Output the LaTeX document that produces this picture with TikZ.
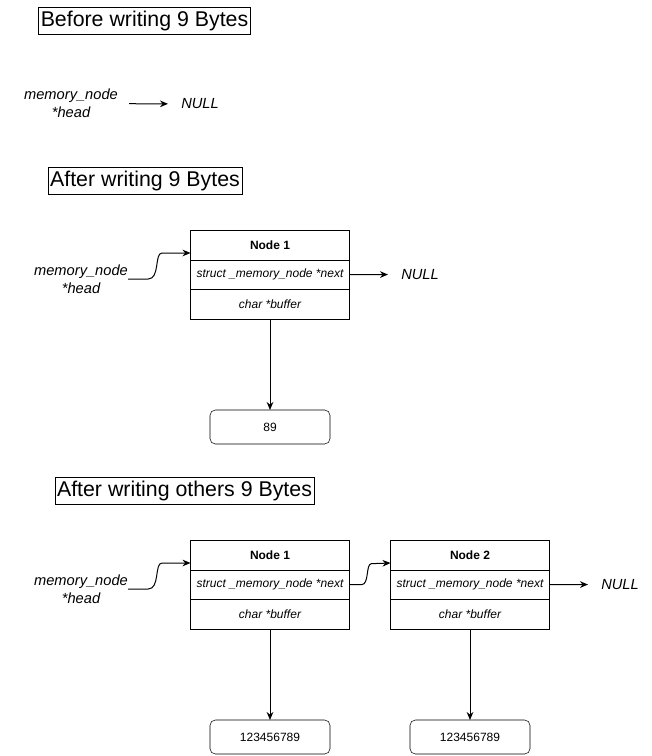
\documentclass[tikz,border=0pt]{standalone}
\usepackage{fontspec}
\setmainfont{Liberation Sans}
\usetikzlibrary{arrows.meta}

\begin{document}
\begin{tikzpicture}[x=0.75pt, y=-0.75pt,
  every node/.style={font=\fontsize{9}{11}\selectfont},
  title/.style={draw, inner xsep=1.5pt, inner ysep=0pt, minimum height=20.25pt, font=\fontsize{16}{19}\selectfont},
  label/.style={align=center, inner sep=0pt, font=\fontsize{11}{13.5}\selectfont\itshape},
  row/.style={draw, minimum width=119.25pt, minimum height=22.25pt, inner sep=0pt, outer sep=0pt, font=\fontsize{9}{11}\selectfont\itshape},
  head/.style={row, font=\fontsize{9}{11}\selectfont\bfseries},
  buf/.style={draw, rounded corners=4pt, minimum width=90pt, minimum height=25.5pt, outer sep=0pt},
  link/.style={-{Stealth[length=6pt, width=5pt]}, line width=0.75pt},
  tonull/.style={link, shorten >=9.75pt}]

\useasboundingbox (0,0) rectangle (651,756);

% ---- Before writing ----
\node[title] (t1) at (144.5,20.5) {Before writing 9 Bytes};

\node[label] (h1) at (71,103.5) {memory\_node\\*head};
\node[label] (null1) at (200,104) {NULL};

\draw[link, shorten <=8.25pt, shorten >=9.75pt] (h1) -- (null1);

% ---- After writing 9 Bytes ----
\node[title] (t2) at (145,180.5) {After writing 9 Bytes};

\node[label] (h2) at (81,279) {memory\_node\\*head};

\node[head] (n1t) at (270,245) {Node 1};
\node[row, anchor=north] (n1n) at (n1t.south) {struct \_memory\_node *next};
\node[row, anchor=north] (n1b) at (n1n.south) {char *buffer};

\node[label] (null2) at (420,274.5) {NULL};
\node[buf] (b1) at (270,427) {89};

\coordinate (n1in) at ([yshift=-6pt]n1t.west);

\draw[link] (h2.east) -- ++(20,0) .. controls +(12,0) and +(-8,0) .. ++(14,-26) -- (n1in);
\draw[tonull] (n1n.east) -- (null2.west);
\draw[link] (n1b) -- (b1);

% ---- After writing others 9 Bytes ----
\node[title] (t3) at (184.5,491) {After writing others 9 Bytes};

\node[label] (h3) at (81,589) {memory\_node\\*head};

\node[head] (m1t) at (270,555) {Node 1};
\node[row, anchor=north] (m1n) at (m1t.south) {struct \_memory\_node *next};
\node[row, anchor=north] (m1b) at (m1n.south) {char *buffer};

\node[head] (m2t) at (470,555) {Node 2};
\node[row, anchor=north] (m2n) at (m2t.south) {struct \_memory\_node *next};
\node[row, anchor=north] (m2b) at (m2n.south) {char *buffer};

\node[label] (null3) at (620,584.5) {NULL};
\node[buf] (b2) at (270,737) {123456789};
\node[buf] (b3) at (470,737) {123456789};

\coordinate (m1in) at ([yshift=-6pt]m1t.west);
\coordinate (m2in) at ([yshift=-6pt]m2t.west);

\draw[link] (h3.east) -- ++(20,0) .. controls +(12,0) and +(-8,0) .. ++(14,-26) -- (m1in);
\draw[link] (m1n.east) -- ++(12,0) .. controls +(8,0) and +(-6,0) .. ++(10,-21) -- (m2in);
\draw[tonull] (m2n.east) -- (null3.west);
\draw[link] (m1b) -- (b2);
\draw[link] (m2b) -- (b3);

\end{tikzpicture}
\end{document}
